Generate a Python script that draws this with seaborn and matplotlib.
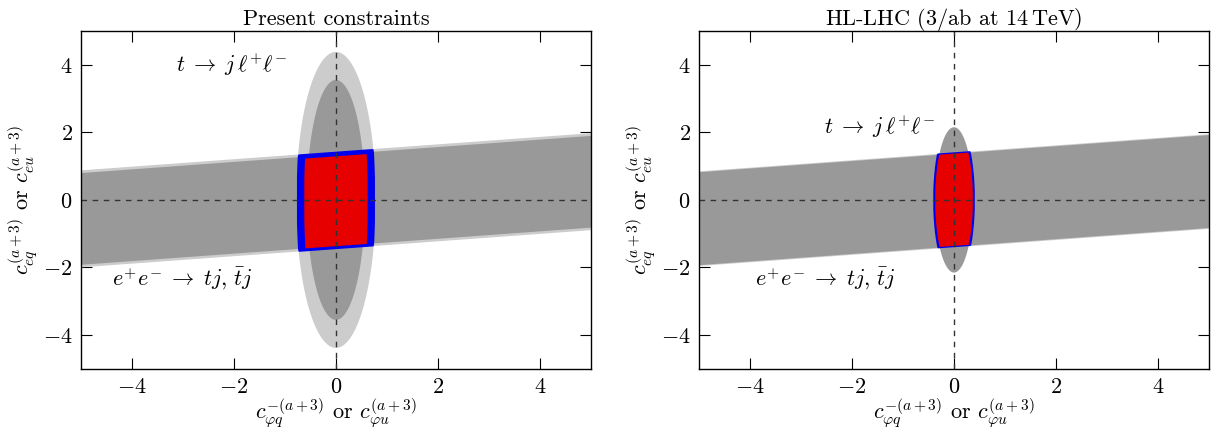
import numpy as np
import matplotlib
matplotlib.use("Agg")
import matplotlib.pyplot as plt
import seaborn as sns

# --- values (data units) ---
panel_titles = ["Present constraints", r"HL-LHC (3/ab at 14$\,$TeV)"]
tick_values = [-4, -2, 0, 2, 4]

# band from e+e- -> tj : y = intercept + slope * x, bounds (lower, upper)
band_slope = 0.11
band_light = [(-1.43, 1.44), (-1.39, 1.41)]
band_dark = [(-1.355, 1.36), (-1.365, 1.385)]

# t -> j l+ l- ellipses: (semi-axis x, semi-axis y), None when absent
ellipse_light = [(0.78, 4.38), None]
ellipse_dark = [(0.57, 3.55), (0.37, 2.15)]

# combined regions: ellipse (a, b) clipped to band (lower, upper)
blue_ellipse = [(0.745, 5.5), (0.39, 2.3)]
blue_band = [(-1.42, 1.39), (-1.37, 1.38)]
red_ellipse = [(0.625, 5.0), (0.37, 2.15)]
red_band = [(-1.37, 1.29), (-1.36, 1.37)]
blue_edge = [1.8, 1.4]

label_tjll = r"$t\;\to\;j\,\ell^{+}\ell^{-}$"
label_ee = r"$e^{+}e^{-}\;\to\;tj,\,\bar{t}j$"
tjll_pos = [(-0.95, 4.0), (-0.37, 2.15)]
ee_pos = [(-4.4, -2.35), (-3.9, -2.35)]

light_grey = "#cccccc"
dark_grey = "#999999"
red = "#e60000"
blue = "#0000ee"

sns.set_style("ticks")
plt.rcParams["font.family"] = "serif"
plt.rcParams["font.serif"] = ["cmr10", "DejaVu Serif"]
plt.rcParams["mathtext.fontset"] = "cm"
plt.rcParams["axes.formatter.use_mathtext"] = True
plt.rcParams["font.size"] = 16
plt.rcParams["text.color"] = "black"
plt.rcParams["axes.labelcolor"] = "black"
plt.rcParams["xtick.color"] = "black"
plt.rcParams["ytick.color"] = "black"

xs = np.linspace(-5, 5, 401)


def fill_band(ax, bounds, color):
    lo, hi = bounds
    ax.fill_between(xs, lo + band_slope * xs, hi + band_slope * xs,
                    color=color, lw=0, zorder=1)


def fill_ellipse(ax, axes_ab, color, z):
    a, b = axes_ab
    t = np.linspace(0, 2 * np.pi, 400)
    ax.fill(a * np.cos(t), b * np.sin(t), color=color, lw=0, zorder=z)


def region(ax, axes_ab, bounds, face, edge=None, lw=0.0, z=4):
    a, b = axes_ab
    lo, hi = bounds
    x = np.linspace(-a, a, 300)
    h = b * np.sqrt(np.clip(1 - (x / a) ** 2, 0, None))
    upper = np.minimum(h, hi + band_slope * x)
    lower = np.maximum(-h, lo + band_slope * x)
    ok = upper > lower
    px = np.concatenate([x[ok], x[ok][::-1]])
    py = np.concatenate([upper[ok], lower[ok][::-1]])
    ax.fill(px, py, facecolor=face, edgecolor=edge if edge else face,
            lw=lw, joinstyle="round", zorder=z)


fig = plt.figure(figsize=(12.21, 4.36), dpi=100)
axes = [fig.add_axes([0.0663, 0.154, 0.4177, 0.775]),
        fig.add_axes([0.5725, 0.154, 0.4177, 0.775])]

for i, ax in enumerate(axes):
    if ellipse_light[i] is not None:
        fill_ellipse(ax, ellipse_light[i], light_grey, 1)
    fill_band(ax, band_light[i], light_grey)
    fill_ellipse(ax, ellipse_dark[i], dark_grey, 2)
    fill_band(ax, band_dark[i], dark_grey)

    region(ax, blue_ellipse[i], blue_band[i], blue, blue, blue_edge[i], 4)
    region(ax, red_ellipse[i], red_band[i], red, None, 0.0, 5)

    sns.lineplot(x=[-5, 5], y=[0, 0], ax=ax, color="#333333", lw=1,
                 dashes=False, zorder=6).lines[-1].set_dashes([4, 4])
    ax.axvline(0, color="#333333", lw=1, dashes=(4, 4), zorder=6)

    ax.set_xlim(-5, 5)
    ax.set_ylim(-5, 5)
    ax.set_xticks(tick_values)
    ax.set_yticks(tick_values)
    ax.tick_params(direction="in", length=8, width=0.8, top=True,
                   right=True, labelsize=16, pad=6)
    for s in ax.spines.values():
        s.set_linewidth(1.0)
        s.set_color("black")
        s.set_zorder(10)

    ax.set_title(panel_titles[i], fontsize=16, pad=4)
    ax.set_xlabel(r"$c_{\varphi q}^{-(a+3)}$ or $c_{\varphi u}^{(a+3)}$",
                  fontsize=16, labelpad=0)
    ax.set_ylabel(r"$c_{eq}^{(a+3)}$ or $c_{eu}^{(a+3)}$",
                  fontsize=16, labelpad=2)

    ax.text(*tjll_pos[i], label_tjll, ha="right", va="center",
            fontsize=16, zorder=7)
    ax.text(*ee_pos[i], label_ee, ha="left", va="center",
            fontsize=16, zorder=7)

fig.savefig("out.png", dpi=100)
